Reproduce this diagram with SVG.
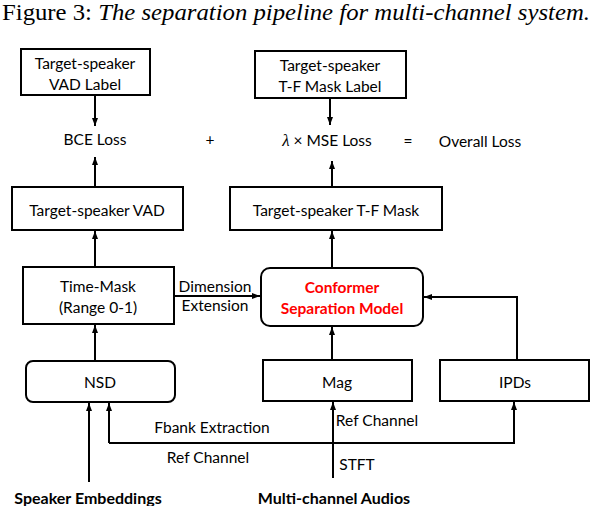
<svg xmlns="http://www.w3.org/2000/svg" width="592" height="506" viewBox="0 0 592 506">
<style>
.t{font-family:Lato,"Open Sans","Liberation Sans",sans-serif;font-size:15.5px;fill:#000;text-anchor:middle;dominant-baseline:central}
.b{font-weight:bold;font-size:16px}
.red{fill:#ff0000;font-weight:bold}
.box{fill:#fff;stroke:#000;stroke-width:2}
.ln{fill:none;stroke:#000;stroke-width:2}
.title{font-family:"Liberation Serif",serif;font-size:24px;fill:#000}
</style>
<defs>
<marker id="ah" viewBox="0 0 8 8" refX="8" refY="4" markerWidth="8" markerHeight="8" markerUnits="userSpaceOnUse" orient="auto">
<path d="M0,1 L8,4 L0,7 Z" fill="#000"/>
</marker>
</defs>
<text class="title" x="2" y="20" textLength="588" lengthAdjust="spacingAndGlyphs">Figure 3: <tspan font-style="italic">The separation pipeline for multi-channel system.</tspan></text>

<g id="connectors">
<line class="ln" x1="95" y1="96" x2="95" y2="126" marker-end="url(#ah)"/>
<line class="ln" x1="95" y1="187" x2="95" y2="157" marker-end="url(#ah)"/>
<line class="ln" x1="330" y1="98" x2="330" y2="125" marker-end="url(#ah)"/>
<line class="ln" x1="332" y1="187" x2="332" y2="161" marker-end="url(#ah)"/>
<line class="ln" x1="95" y1="267" x2="95" y2="231" marker-end="url(#ah)"/>
<line class="ln" x1="332" y1="268" x2="332" y2="231" marker-end="url(#ah)"/>
<line class="ln" x1="95" y1="361" x2="95" y2="325" marker-end="url(#ah)"/>
<line class="ln" x1="332" y1="360" x2="332" y2="327" marker-end="url(#ah)"/>
<line class="ln" x1="174" y1="296" x2="260" y2="296" marker-end="url(#ah)"/>
<polyline class="ln" points="517,360 517,297 424,297" marker-end="url(#ah)"/>
<line class="ln" x1="89" y1="482" x2="89" y2="403" marker-end="url(#ah)"/>
<polyline class="ln" points="109,443 109,403" marker-end="url(#ah)"/>
<polyline class="ln" points="109,443 514,443 514,402" marker-end="url(#ah)"/>
<line class="ln" x1="333" y1="478" x2="333" y2="402" marker-end="url(#ah)"/>
<text class="t" x="215" y="286">Dimension</text>
<text class="t" x="215" y="305">Extension</text>
<text class="t" x="212" y="427">Fbank Extraction</text>
<text class="t" x="208" y="457">Ref Channel</text>
<text class="t" x="377" y="420">Ref Channel</text>
<text class="t" x="357" y="464">STFT</text>
</g>

<g id="vad-label"><rect class="box" x="21" y="49" width="129" height="46"/>
<text class="t" x="85" y="63">Target-speaker</text><text class="t" x="85" y="84">VAD Label</text></g>
<g id="mask-label"><rect class="box" x="255" y="51" width="151" height="47"/>
<text class="t" x="330" y="65">Target-speaker</text><text class="t" x="330" y="86">T-F Mask Label</text></g>
<g id="bce"><text class="t" x="95" y="139">BCE Loss</text></g>
<g id="plus"><text class="t" x="210" y="139">+</text></g>
<g id="mse"><text class="t" x="327" y="140"><tspan font-style="italic" font-family="'Liberation Serif',serif" font-size="17">λ</tspan>  × MSE Loss</text></g>
<g id="eq"><text class="t" x="408" y="141">=</text></g>
<g id="overall"><text class="t" x="480" y="141">Overall Loss</text></g>
<g id="vad"><rect class="box" x="12" y="187" width="171" height="43"/>
<text class="t" x="97" y="210">Target-speaker VAD</text></g>
<g id="mask"><rect class="box" x="230" y="187" width="212" height="43"/>
<text class="t" x="336" y="210">Target-speaker T-F Mask</text></g>
<g id="timemask"><rect class="box" x="23" y="267" width="151" height="57"/>
<text class="t" x="98" y="286">Time-Mask</text><text class="t" x="98" y="307">(Range 0-1)</text></g>
<g id="conformer"><rect class="box" x="261" y="268" width="162" height="58" rx="9"/>
<text class="t red" x="342" y="287">Conformer</text><text class="t red" x="342" y="308">Separation Model</text></g>
<g id="nsd"><rect class="box" x="26" y="361" width="149" height="41" rx="7"/>
<text class="t" x="100" y="382">NSD</text></g>
<g id="mag"><rect class="box" x="263" y="360" width="149" height="41"/>
<text class="t" x="337" y="382">Mag</text></g>
<g id="ipds"><rect class="box" x="440" y="360" width="149" height="41"/>
<text class="t" x="515" y="382">IPDs</text></g>
<g id="spk"><text class="t b" x="88" y="497">Speaker Embeddings</text></g>
<g id="audio"><text class="t b" x="334" y="497">Multi-channel Audios</text></g>
</svg>
